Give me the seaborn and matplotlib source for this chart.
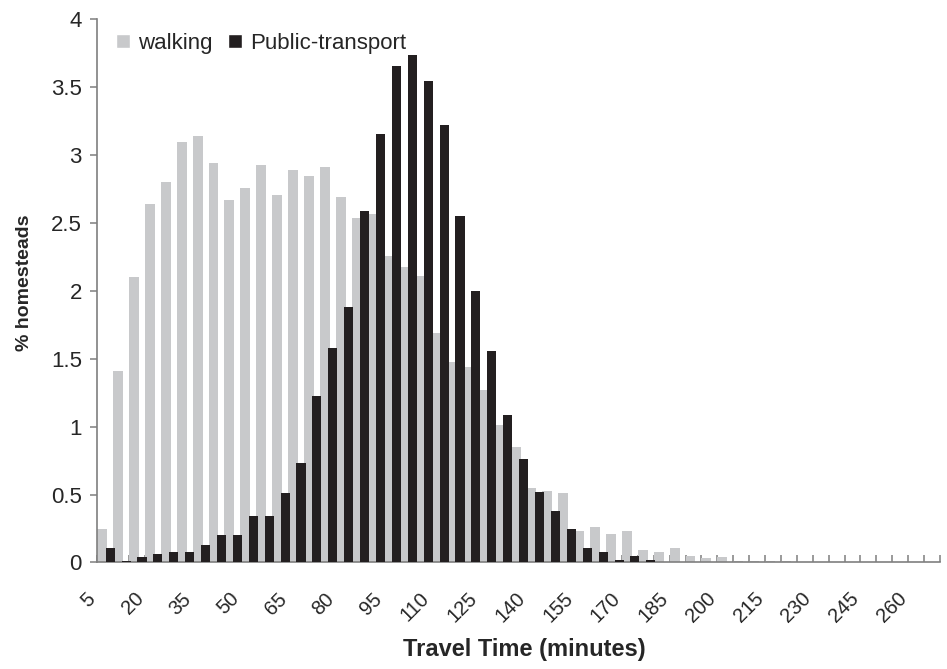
import numpy as np
import pandas as pd
import matplotlib
matplotlib.use('Agg')
import matplotlib.pyplot as plt
import matplotlib.transforms as mtransforms
from matplotlib.patches import Patch
import seaborn as sns

# travel time categories (minutes), one bar pair per 5 minutes
minutes = list(range(5, 270, 5))

walking = [0.25, 1.41, 2.10, 2.64, 2.80, 3.10, 3.14, 2.94, 2.67, 2.76,
           2.93, 2.71, 2.89, 2.85, 2.91, 2.69, 2.54, 2.57, 2.26, 2.18,
           2.11, 1.69, 1.48, 1.44, 1.27, 1.01, 0.85, 0.55, 0.53, 0.51,
           0.23, 0.26, 0.21, 0.23, 0.09, 0.08, 0.11, 0.05, 0.03, 0.04,
           0.01, 0.01, 0.01, 0.01, 0, 0, 0, 0, 0, 0,
           0, 0, 0]

public_transport = [0.11, 0.01, 0.04, 0.06, 0.08, 0.08, 0.13, 0.20, 0.20, 0.34,
                    0.34, 0.51, 0.73, 1.23, 1.58, 1.88, 2.59, 3.16, 3.66, 3.74,
                    3.55, 3.22, 2.55, 2.00, 1.56, 1.09, 0.76, 0.52, 0.38, 0.25,
                    0.11, 0.08, 0.02, 0.05, 0.02, 0, 0, 0, 0, 0,
                    0, 0, 0, 0, 0, 0, 0, 0, 0, 0,
                    0, 0, 0]

y_ticks = [0, 0.5, 1, 1.5, 2, 2.5, 3, 3.5, 4]
y_labels = ['0', '0.5', '1', '1.5', '2', '2.5', '3', '3.5', '4']

grey = '#c8c9cb'
dark = '#231f20'
axis_col = '#7f7f7f'

sns.set_style('white')
plt.rcParams['font.family'] = ['Liberation Sans', 'DejaVu Sans']

df = pd.DataFrame({'Minutes': [str(m) for m in minutes],
                   'walking': walking,
                   'Public-transport': public_transport})

fig = plt.figure(figsize=(9.47, 6.69), dpi=100)
ax = fig.add_axes([0.1027, 0.1592, 0.8899, 0.8117])

# walking first (behind), public transport on top, overlapping like Excel
sns.barplot(data=df, x='Minutes', y='walking', color=grey, width=0.62,
            saturation=1, ax=ax, errorbar=None)
n_walk = len(ax.patches)
sns.barplot(data=df, x='Minutes', y='Public-transport', color=dark, width=0.57,
            saturation=1, ax=ax, errorbar=None)

for i, p in enumerate(ax.patches):
    p.set_edgecolor('none')
    if i < n_walk:
        p.set_x(p.get_x() - 0.19)
    else:
        p.set_x(p.get_x() + 0.315)
        p.set_zorder(3)

ax.set_xlim(-0.5, len(minutes) - 0.5)
ax.set_ylim(0, 4)

for s in ['top', 'right']:
    ax.spines[s].set_visible(False)
for s in ['left', 'bottom']:
    ax.spines[s].set_color(axis_col)
    ax.spines[s].set_linewidth(1.2)

ax.set_yticks(y_ticks)
ax.set_yticklabels(y_labels, fontsize=16)
ax.tick_params(axis='y', direction='out', length=5, width=1.1, color=axis_col,
               pad=6, left=True)

pos = np.arange(0, len(minutes), 3)
ax.set_xticks(pos)
ax.set_xticklabels([str(minutes[i]) for i in pos], fontsize=14.5, rotation=45,
                   ha='right', va='center', rotation_mode='anchor')
ax.tick_params(axis='x', which='major', length=0, pad=24)
ax.set_xticks(np.arange(-0.5, len(minutes), 1), minor=True)
ax.tick_params(axis='x', which='minor', direction='in', length=5, width=1.1,
               color=axis_col, bottom=True)
shift = mtransforms.ScaledTranslation(-9 / 72, 0, fig.dpi_scale_trans)
for lab in ax.get_xticklabels():
    lab.set_transform(lab.get_transform() + shift)

ax.set_xlabel('Travel Time (minutes)', fontsize=17, fontweight='bold')
ax.xaxis.set_label_coords(0.507, -0.139)
ax.set_ylabel('% homesteads', fontsize=14, fontweight='bold')
ax.yaxis.set_label_coords(-0.076, 0.515)

handles = [Patch(facecolor=grey, label='walking'),
           Patch(facecolor=dark, label='Public-transport')]
ax.legend(handles=handles, loc='upper left', bbox_to_anchor=(0.006, 1.0),
          ncol=2, frameon=False, fontsize=16, handlelength=0.65, handleheight=0.65,
          handletextpad=0.35, columnspacing=0.7, borderaxespad=0.2)

fig.savefig('out.png', dpi=100)
